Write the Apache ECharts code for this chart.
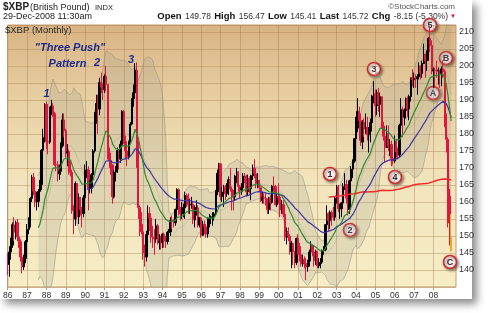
<!DOCTYPE html>
<html>
<head>
<meta charset="utf-8">
<script src="https://cdn.jsdelivr.net/npm/echarts@6/dist/echarts.min.js"></script>
<style>
  html, body { margin: 0; padding: 0; background: #fff; }
  #chart { width: 489px; height: 313px; }
</style>
</head>
<body>
<div id="chart"></div>
<script>
// $XBP (British Pound) monthly bars, Jan 1986 .. Dec 2008
var firstYear = 1986;
var firstOpen = 144.5;

var closes = [
  141.6, 145.3, 147.3, 153.3, 151.1, 153.9, 149.7, 148.3, 143.8, 140.9, 143.3, 148.3, // 86
  151.9, 154.4, 161.0, 167.2, 163.2, 160.0, 160.2, 163.1, 165.1, 175.2, 178.9, 188.7, // 87
  177.7, 177.6, 187.2, 188.2, 186.0, 171.0, 170.9, 168.3, 169.0, 176.5, 184.1, 180.9, // 88
  174.4, 174.8, 169.0, 168.7, 157.4, 155.0, 165.4, 155.6, 161.2, 157.7, 156.6, 161.2, // 89
  169.4, 169.4, 164.0, 164.0, 168.0, 175.0, 186.2, 189.0, 187.3, 195.1, 193.8, 193.0, // 90
  196.9, 194.5, 174.2, 172.2, 170.9, 161.5, 168.8, 169.8, 175.1, 172.6, 176.9, 186.6, // 91
  177.7, 175.0, 173.3, 177.7, 182.9, 190.3, 192.1, 198.7, 177.0, 158.4, 152.5, 151.2, // 92
  145.1, 143.8, 150.4, 156.6, 155.2, 149.6, 149.4, 149.1, 153.0, 148.1, 148.4, 148.0, // 93
  150.5, 148.5, 148.4, 151.1, 151.2, 154.5, 154.3, 153.9, 157.8, 163.6, 156.6, 156.5, // 94
  158.3, 158.3, 161.9, 161.4, 159.1, 159.3, 159.3, 154.7, 158.3, 158.3, 153.2, 155.3, // 95
  150.2, 153.4, 152.7, 150.6, 155.0, 155.3, 155.5, 155.6, 156.5, 163.0, 168.4, 171.2, // 96
  161.6, 162.9, 164.4, 162.4, 164.0, 166.5, 163.8, 162.0, 161.5, 167.6, 168.8, 164.5, // 97
  163.5, 164.2, 167.6, 167.0, 163.0, 166.8, 163.9, 167.7, 169.9, 168.3, 165.4, 166.2, // 98
  164.3, 160.5, 161.3, 161.1, 160.4, 157.8, 161.2, 159.9, 164.6, 164.5, 159.2, 161.6, // 99
  161.3, 157.6, 159.2, 156.4, 149.6, 151.3, 149.9, 145.4, 147.8, 145.3, 142.2, 149.3, // 00
  146.5, 144.5, 141.8, 143.1, 141.9, 140.9, 142.1, 145.3, 147.1, 145.3, 142.7, 145.5, // 01
  141.2, 141.9, 142.3, 145.8, 145.9, 153.3, 156.5, 154.5, 156.9, 156.1, 155.5, 161.0, // 02
  164.4, 158.0, 158.0, 159.7, 164.5, 165.1, 161.1, 157.8, 166.2, 169.6, 172.0, 178.6, // 03
  181.7, 186.6, 183.9, 177.6, 183.4, 181.4, 181.9, 179.7, 180.8, 183.3, 191.1, 191.7, // 04
  188.3, 192.1, 188.7, 190.9, 182.3, 179.3, 176.0, 180.0, 176.4, 176.9, 172.8, 172.0, // 05
  177.8, 174.7, 173.8, 182.5, 187.2, 184.9, 186.9, 190.4, 187.3, 191.0, 196.5, 195.9, // 06
  196.3, 196.2, 196.8, 199.9, 197.8, 200.7, 203.4, 201.5, 204.4, 208.1, 206.0, 198.5, // 07
  198.8, 198.6, 198.5, 198.7, 197.8, 199.1, 198.3, 182.1, 178.4, 161.6, 153.8, 145.72 // 08
];

var highs = [
  145.0, 147.0, 149.5, 154.0, 155.5, 154.5, 155.0, 150.5, 149.0, 144.5, 144.5, 148.8,
  153.5, 155.5, 161.5, 168.0, 168.5, 165.5, 163.0, 163.8, 166.5, 175.5, 181.5, 189.0,
  189.5, 178.5, 188.0, 190.0, 189.0, 186.5, 173.5, 172.0, 171.0, 177.5, 186.0, 186.0,
  181.5, 177.0, 175.5, 172.0, 169.5, 159.0, 166.0, 165.0, 162.5, 161.5, 158.5, 162.0,
  171.0, 172.0, 170.5, 166.5, 168.5, 175.5, 186.5, 191.5, 191.5, 196.5, 198.0, 195.0,
  197.5, 200.0, 194.5, 176.0, 174.5, 171.0, 169.5, 170.5, 176.0, 175.5, 178.0, 187.0,
  187.0, 179.5, 175.5, 178.0, 183.5, 190.5, 194.5, 200.8, 201.0, 178.0, 159.0, 157.0,
  153.5, 147.5, 151.5, 159.0, 158.5, 156.0, 153.0, 152.0, 155.0, 153.5, 150.5, 150.0,
  150.8, 151.0, 150.0, 151.5, 152.0, 155.5, 156.0, 155.0, 158.0, 164.0, 164.0, 158.5,
  160.0, 159.5, 163.0, 162.5, 162.5, 161.0, 161.5, 160.0, 159.0, 160.5, 159.0, 155.5,
  155.5, 154.5, 154.5, 153.5, 155.5, 156.5, 156.0, 157.0, 157.0, 163.5, 169.5, 171.5,
  171.0, 164.5, 165.0, 165.0, 165.5, 167.5, 170.0, 164.5, 163.5, 168.0, 170.0, 169.0,
  165.0, 165.5, 168.5, 168.5, 168.0, 168.0, 167.5, 168.0, 171.0, 172.5, 168.5, 168.5,
  166.5, 164.5, 163.0, 162.5, 162.5, 161.0, 161.5, 162.0, 165.0, 167.5, 165.0, 162.5,
  165.5, 162.0, 160.5, 160.5, 156.5, 152.5, 152.5, 150.5, 148.5, 148.0, 145.5, 149.5,
  150.5, 148.0, 147.0, 144.5, 144.0, 143.5, 143.0, 146.0, 148.5, 147.5, 146.0, 146.0,
  145.5, 143.5, 143.5, 146.0, 147.0, 153.5, 159.0, 157.0, 157.5, 157.5, 158.5, 161.5,
  165.0, 165.0, 159.5, 160.0, 165.5, 168.5, 166.5, 162.0, 166.5, 170.5, 172.5, 178.8,
  185.0, 190.5, 188.0, 186.0, 184.0, 184.5, 186.0, 185.0, 182.0, 184.5, 191.5, 195.5,
  193.0, 193.0, 193.5, 192.0, 191.0, 183.5, 178.0, 182.5, 182.5, 178.5, 178.0, 175.5,
  179.5, 178.5, 176.0, 183.0, 190.5, 188.0, 187.5, 190.7, 191.0, 191.5, 196.5, 199.0,
  198.0, 197.5, 197.5, 201.0, 200.0, 201.5, 206.5, 203.0, 204.5, 208.5, 211.6, 207.5,
  199.5, 199.5, 201.5, 199.5, 198.5, 199.8, 201.5, 199.0, 186.0, 179.0, 163.8, 156.47
];

var lows = [
  138.5, 138.0, 143.0, 146.5, 148.5, 149.0, 148.5, 146.5, 142.5, 139.0, 140.0, 142.0,
  147.5, 150.5, 152.5, 160.0, 162.0, 158.5, 157.5, 158.5, 161.0, 163.5, 171.0, 177.5,
  175.5, 174.0, 177.0, 185.5, 185.0, 170.5, 169.0, 166.0, 166.5, 168.0, 176.0, 179.0,
  173.0, 170.5, 168.0, 167.5, 156.5, 150.5, 153.0, 155.0, 153.5, 156.0, 152.5, 155.5,
  160.5, 167.0, 157.5, 162.5, 162.5, 167.5, 174.5, 183.0, 180.0, 185.5, 192.0, 190.0,
  192.0, 192.5, 172.5, 170.0, 168.0, 159.5, 161.0, 166.0, 168.5, 169.5, 171.5, 176.0,
  177.0, 172.5, 170.5, 172.5, 177.5, 182.5, 188.0, 191.5, 170.0, 155.0, 150.0, 150.5,
  143.0, 141.0, 142.5, 149.0, 151.5, 148.0, 146.5, 144.5, 148.0, 147.5, 146.0, 146.0,
  146.5, 146.5, 146.5, 147.5, 148.5, 150.0, 152.0, 152.5, 153.0, 156.5, 156.0, 154.5,
  155.0, 155.5, 155.0, 158.5, 156.5, 156.5, 158.0, 153.5, 152.5, 156.0, 152.5, 152.5,
  149.5, 150.0, 150.5, 149.5, 149.5, 152.5, 153.5, 153.0, 154.5, 156.0, 162.0, 165.0,
  160.5, 160.0, 158.5, 160.5, 161.5, 162.0, 163.0, 157.5, 157.5, 160.5, 165.5, 163.0,
  161.0, 162.0, 163.0, 165.5, 161.5, 162.0, 162.5, 160.5, 166.5, 167.0, 164.0, 164.0,
  163.0, 160.0, 159.5, 159.5, 159.0, 156.5, 156.5, 157.5, 159.5, 163.0, 159.0, 158.5,
  159.5, 155.5, 156.5, 155.5, 148.5, 147.5, 148.5, 144.5, 140.5, 141.5, 140.5, 141.5,
  144.5, 142.5, 141.0, 141.0, 140.5, 137.0, 139.5, 141.0, 142.5, 144.0, 141.0, 141.5,
  140.5, 140.5, 140.5, 142.0, 144.5, 145.5, 152.5, 151.5, 152.0, 153.0, 154.5, 154.5,
  159.5, 157.0, 155.0, 155.5, 158.5, 163.5, 159.5, 156.0, 156.5, 164.5, 167.0, 171.5,
  175.5, 180.5, 178.0, 176.5, 175.5, 179.0, 180.0, 178.0, 174.5, 177.5, 182.5, 189.0,
  185.0, 185.5, 186.5, 185.0, 181.5, 178.0, 171.5, 176.0, 175.0, 173.5, 170.5, 171.0,
  171.5, 173.0, 172.5, 173.0, 182.0, 179.0, 182.5, 184.5, 185.0, 184.0, 189.5, 194.0,
  193.5, 193.5, 191.5, 196.0, 196.0, 196.5, 200.5, 196.5, 198.5, 201.5, 204.0, 197.5,
  193.5, 193.5, 196.5, 194.5, 193.5, 194.0, 196.5, 182.0, 174.5, 152.5, 147.2, 145.41
];

// header quote (current month)
var quoteOpen = 149.78, quoteHigh = 156.47, quoteLow = 145.41, quoteLast = 145.72;
var quoteChg = -8.15, quotePct = -5.30;

var padMonths = 3;
var yTicks = [140, 145, 150, 155, 160, 165, 170, 175, 180, 185, 190, 195, 200, 205, 210];
var yearLabels = ['86', '87', '88', '89', '90', '91', '92', '93', '94', '95', '96', '97',
                  '98', '99', '00', '01', '02', '03', '04', '05', '06', '07', '08'];

// indicators as on the chart: BB(20,2), EMA 20, EMA 50, SMA 200
function ema(src, n) {
  var out = [], k = 2 / (n + 1), prev = null, sum = 0;
  for (var i = 0; i < src.length; i++) {
    if (i < n - 1) { sum += src[i]; out.push('-'); continue; }
    if (i === n - 1) { sum += src[i]; prev = sum / n; }
    else prev = prev + k * (src[i] - prev);
    out.push(+prev.toFixed(3));
  }
  return out;
}

function sma(src, n) {
  var out = [], sum = 0;
  for (var i = 0; i < src.length; i++) {
    sum += src[i];
    if (i >= n) sum -= src[i - n];
    out.push(i < n - 1 ? '-' : +(sum / n).toFixed(3));
  }
  return out;
}

function boll(src, n, mult) {
  var mid = [], lo = [], width = [];
  for (var i = 0; i < src.length; i++) {
    if (i < n - 1) { mid.push('-'); lo.push('-'); width.push('-'); continue; }
    var s = 0, s2 = 0;
    for (var j = i - n + 1; j <= i; j++) s += src[j];
    var m = s / n;
    for (j = i - n + 1; j <= i; j++) s2 += (src[j] - m) * (src[j] - m);
    var sd = Math.sqrt(s2 / n);
    mid.push(+m.toFixed(3));
    lo.push(+(m - mult * sd).toFixed(3));
    width.push(+(2 * mult * sd).toFixed(3));
  }
  return { mid: mid, lo: lo, width: width };
}

var months = [];
for (var i = 0; i < closes.length + padMonths; i++) {
  var mm = i % 12 + 1;
  months.push((firstYear + Math.floor(i / 12)) + '-' + (mm < 10 ? '0' : '') + mm);
}
function yearStart(idx) { return idx % 12 === 0 && yearLabels[idx / 12] !== undefined; }

var ohlc = closes.map(function (c, i) {
  var o = i === 0 ? firstOpen : closes[i - 1];
  return [o, c, lows[i], highs[i]];
});
ohlc[ohlc.length - 1] = {
  value: [quoteOpen, quoteLast, quoteLow, quoteHigh],
  itemStyle: { color: '#f2a51f', color0: '#f2a51f', borderColor: '#f2a51f', borderColor0: '#f2a51f' }
};

var bb = boll(closes, 20, 2);
var ema20 = ema(closes, 20);
var ema50 = ema(closes, 50);
var sma200 = sma(closes, 200);

var FONT = '"Liberation Sans", Arial, sans-serif';

function circ(label, x, y) {
  return {
    type: 'group', x: x, y: y, z: 50,
    children: [
      { type: 'circle', shape: { cx: 0, cy: 0, r: 6.5 },
        style: { fill: new echarts.graphic.RadialGradient(0.4, 0.35, 0.7, [
                   { offset: 0, color: '#ffffff' }, { offset: 1, color: '#e8e2e2' }]),
                 stroke: '#d42a2a', lineWidth: 1.6,
                 shadowBlur: 3, shadowColor: 'rgba(0,0,0,0.45)', shadowOffsetX: 1.5, shadowOffsetY: 1.5 } },
      { type: 'text', x: 0, y: 0.5,
        style: { text: label, fill: '#3b2222', font: 'bold 9px ' + FONT,
                 textAlign: 'center', textVerticalAlign: 'middle' } }
    ]
  };
}

function navy(text, x, y) {
  return { type: 'text', x: x, y: y, z: 50,
    style: { text: text, fill: '#1d2a8f', font: 'italic bold 11px ' + FONT,
             textAlign: 'center', textVerticalAlign: 'middle' } };
}

var chart = echarts.init(document.getElementById('chart'));
var option = {
  animation: false,
  backgroundColor: '#ffffff',
  grid: {
    left: 3, top: 25, width: 453, height: 262,
    show: true, borderColor: '#c59c6c', borderWidth: 1,
    backgroundColor: new echarts.graphic.LinearGradient(0, 0, 0, 1, [
      { offset: 0, color: '#d9b383' },
      { offset: 0.3, color: '#e8d1a4' },
      { offset: 0.6, color: '#f2e4bc' },
      { offset: 1, color: '#f6edc6' }
    ])
  },
  xAxis: {
    type: 'category', data: months, boundaryGap: false,
    axisLine: { show: false },
    axisTick: { show: true, interval: function (i) { return yearStart(i); },
                length: 3, lineStyle: { color: '#b89a70' } },
    axisLabel: {
      interval: function (i) { return yearStart(i); },
      formatter: function (v, i) { return yearStart(i) ? yearLabels[i / 12] : ''; },
      color: '#333', fontSize: 8.5, fontFamily: FONT, margin: 4
    },
    splitLine: { show: true, interval: function (i) { return yearStart(i); },
                 lineStyle: { color: 'rgba(160,120,75,0.4)', width: 1 } }
  },
  yAxis: {
    type: 'value', position: 'right', min: 135, max: 212, interval: 5, scale: true,
    axisLine: { show: false }, axisTick: { show: false },
    axisLabel: {
      color: '#333', fontSize: 9, fontFamily: FONT, margin: 3,
      formatter: function (v) { return yTicks.indexOf(v) >= 0 ? String(v) : ''; }
    },
    splitLine: { lineStyle: { color: 'rgba(160,120,75,0.38)', width: 1 } }
  },
  series: [
    { name: 'bbLower', type: 'line', data: bb.lo, stack: 'bb', symbol: 'none', z: 1,
      lineStyle: { color: 'rgba(150,148,135,0.55)', width: 1 } },
    { name: 'bbUpper', type: 'line', data: bb.width, stack: 'bb', symbol: 'none', z: 1,
      lineStyle: { color: 'rgba(150,148,135,0.55)', width: 1 },
      areaStyle: { color: 'rgba(150,150,140,0.28)' } },
    { name: 'bbMid', type: 'line', data: bb.mid, symbol: 'none', z: 1,
      lineStyle: { color: 'rgba(140,140,130,0.5)', width: 1, type: 'dotted' } },
    { name: 'XBP', type: 'candlestick', data: ohlc, barWidth: 1.8, z: 3,
      itemStyle: { color: '#000000', color0: '#e0163f', borderColor: '#000000',
                   borderColor0: '#e0163f', borderWidth: 1 } },
    { name: 'sma200', type: 'line', data: sma200, symbol: 'none', z: 4,
      lineStyle: { color: '#f22a2a', width: 1.5 } },
    { name: 'ema50', type: 'line', data: ema50, symbol: 'none', z: 4,
      lineStyle: { color: '#3a35a8', width: 1.2 } },
    { name: 'ema20', type: 'line', data: ema20, symbol: 'none', z: 4,
      lineStyle: { color: '#2f8a2f', width: 1.2 } }
  ],
  graphic: [
    { type: 'rect', z: -10, silent: true, shape: { x: 0, y: 0, width: 472, height: 299 },
      style: { fill: '#ffffff', shadowBlur: 8, shadowColor: 'rgba(0,0,0,0.45)',
               shadowOffsetX: 5, shadowOffsetY: 5 } },
    { type: 'text', x: 3, y: 7, style: { text: '$XBP', fill: '#222', font: 'bold 10px ' + FONT, textVerticalAlign: 'middle' } },
    { type: 'text', x: 30, y: 7.5, style: { text: '(British Pound)', fill: '#222', font: '9px ' + FONT, textVerticalAlign: 'middle' } },
    { type: 'text', x: 95, y: 7.5, style: { text: 'INDX', fill: '#222', font: '7.5px ' + FONT, textVerticalAlign: 'middle' } },
    { type: 'text', x: 455, y: 7, style: { text: '\u00A9StockCharts.com', fill: '#555', font: '8px ' + FONT, textAlign: 'right', textVerticalAlign: 'middle' } },
    { type: 'text', x: 3, y: 16.5, style: { text: '29-Dec-2008 11:30am', fill: '#222', font: '9px ' + FONT, textVerticalAlign: 'middle' } },
    { type: 'text', x: 448, y: 16.5, style: {
        text: '{b|Open} {v|' + quoteOpen.toFixed(2) + '} {b|High} {v|' + quoteHigh.toFixed(2) +
              '} {b|Low} {v|' + quoteLow.toFixed(2) + '} {b|Last} {v|' + quoteLast.toFixed(2) +
              '} {b|Chg} {v|' + quoteChg.toFixed(2) + ' (' + quotePct.toFixed(2) + '%)}',
        textAlign: 'right', textVerticalAlign: 'middle',
        rich: { b: { fontWeight: 'bold', fontSize: 9.5, fontFamily: FONT, fill: '#111' },
                v: { fontSize: 8.5, fontFamily: FONT, fill: '#333' } } } },
    { type: 'text', x: 453, y: 16, style: { text: '\u25BC', fill: '#c4123a', font: '6px ' + FONT, textAlign: 'center', textVerticalAlign: 'middle' } },
    { type: 'text', x: 5, y: 30.5, z: 50, style: { text: '$XBP (Monthly)', fill: '#2a2a2a', font: '9.5px ' + FONT, textVerticalAlign: 'middle' } },
    navy('"Three Push"', 70, 48),
    navy('Pattern', 67.5, 63.5),
    navy('1', 46.5, 94),
    navy('2', 97, 63),
    navy('3', 131, 60),
    circ('1', 330, 174),
    circ('2', 350, 230),
    circ('3', 374, 69),
    circ('4', 395, 177),
    circ('5', 430, 25),
    circ('A', 433, 93),
    circ('B', 446, 58),
    circ('C', 450, 262)
  ]
};
chart.setOption(option);
</script>
</body>
</html>
